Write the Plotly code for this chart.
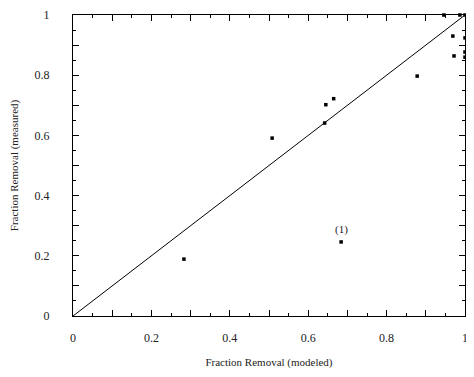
import plotly.graph_objects as go

modeled = [0.283, 0.508, 0.642, 0.645, 0.665, 0.684, 0.878, 0.946, 0.969, 0.972, 0.987, 1.0, 1.0, 1.0, 1.0]
measured = [0.189, 0.591, 0.641, 0.702, 0.722, 0.246, 0.797, 1.0, 0.930, 0.864, 1.0, 1.0, 0.924, 0.877, 0.860]
line_x = [0, 1]
line_y = [0, 1]
tick_vals = [0, 0.1, 0.2, 0.3, 0.4, 0.5, 0.6, 0.7, 0.8, 0.9, 1.0]
tick_text = ["0", "", "0.2", "", "0.4", "", "0.6", "", "0.8", "", "1"]
label_text = "(1)"
label_x = 0.684
label_y = 0.286

font = "Liberation Serif, Times New Roman, serif"

fig = go.Figure()
fig.add_trace(go.Scatter(x=line_x, y=line_y, mode="lines",
                         line=dict(color="black", width=1), showlegend=False, hoverinfo="skip"))
fig.add_trace(go.Scatter(x=modeled, y=measured, mode="markers",
                         marker=dict(symbol="square", size=3.5, color="black"),
                         showlegend=False, cliponaxis=False))
fig.add_annotation(x=label_x, y=label_y, text=label_text, showarrow=False,
                   font=dict(family=font, size=11, color="#222"))

axis_common = dict(
    range=[0, 1], showgrid=False, zeroline=False, showline=True, linecolor="black",
    linewidth=1, mirror="ticks", ticks="inside", ticklen=6, tickcolor="black",
    tickvals=tick_vals, ticktext=tick_text, automargin=False, ticklabeloverflow="allow",
    minor=dict(dtick=0.05, ticks="inside", ticklen=3, tickcolor="black", showgrid=False),
    tickfont=dict(family=font, size=12, color="#222"),
)

fig.update_xaxes(**axis_common, ticklabelstandoff=11,
                 title=dict(text="Fraction Removal (modeled)", font=dict(family=font, size=11, color="#222"), standoff=13))
fig.update_yaxes(**axis_common, ticklabelstandoff=20,
                 title=dict(text="Fraction Removal (measured)", font=dict(family=font, size=11, color="#222"), standoff=18))

# page body has an 8px default margin, so the figure is sized to fit the 474x377 window
fig.update_layout(width=466, height=369, margin=dict(l=65, r=9, t=7, b=61),
                  plot_bgcolor="white", paper_bgcolor="white")

fig.write_html("out.html")
